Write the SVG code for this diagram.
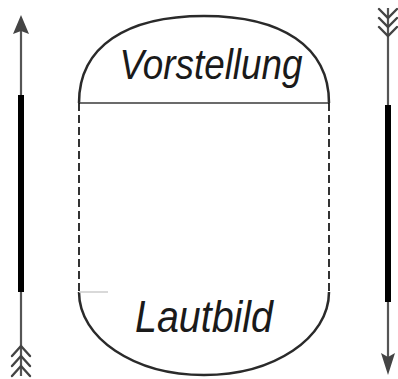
<svg xmlns="http://www.w3.org/2000/svg" width="398" height="379" viewBox="0 0 398 379">
<style>
.outline{fill:none;stroke:#2a2a2a;stroke-width:2.5}
.base{stroke:#3a3a3a;stroke-width:1.6}
.dash{stroke:#000;stroke-width:1.6;stroke-dasharray:8 4}
.shaft{stroke:#555;stroke-width:2.2;fill:none}
.thick{stroke:#000;stroke-width:6}
.head{fill:#444}
.fletch{stroke:#444;stroke-width:2.4;fill:none;stroke-linecap:round}
.lbl{font-family:"Liberation Sans",Arial,sans-serif;font-style:italic;fill:#1a1a1a;text-anchor:middle}
</style>
<rect width="398" height="379" fill="#fff"/>
<g id="vorstellung">
<path class="outline" d="M79,103 C79,46.5 126.5,16 204,16 C281.5,16 329,46.5 329,103"/>
<line class="base" x1="79" y1="103" x2="329" y2="103"/>
<text class="lbl" x="211" y="79" font-size="42" textLength="183" lengthAdjust="spacingAndGlyphs">Vorstellung</text>
</g>
<g id="lautbild">
<path class="outline" d="M79,292 C79,338 134,375 204,375 C274,375 329,338 329,292"/>
<line x1="79" y1="292" x2="108" y2="292" stroke="#ccc" stroke-width="1.5"/>
<text class="lbl" x="204" y="332" font-size="45" textLength="138" lengthAdjust="spacingAndGlyphs">Lautbild</text>
</g>
<g id="connectors">
<line class="dash" x1="79" y1="103" x2="79" y2="292"/>
<line class="dash" x1="329" y1="103" x2="329" y2="292"/>
<g id="left-arrow">
<line class="shaft" x1="21" y1="30" x2="21" y2="376"/>
<line class="thick" x1="21" y1="95" x2="21" y2="292"/>
<polygon class="head" points="21,15 29,34 21,31 13,34"/>
<path class="fletch" d="M12,356 L21,346 L30,356 M12,366 L21,356 L30,366 M12,376 L21,366 L30,376"/>
</g>
<g id="right-arrow">
<line class="shaft" x1="388" y1="8" x2="388" y2="360"/>
<line class="thick" x1="388" y1="105" x2="388" y2="302"/>
<polygon class="head" points="388,375 395,353 388,357 381,353"/>
<path class="fletch" d="M379,9 L388,18 L397,9 M379,18 L388,27 L397,18 M379,27 L388,36 L397,27"/>
</g>
</g>
</svg>
